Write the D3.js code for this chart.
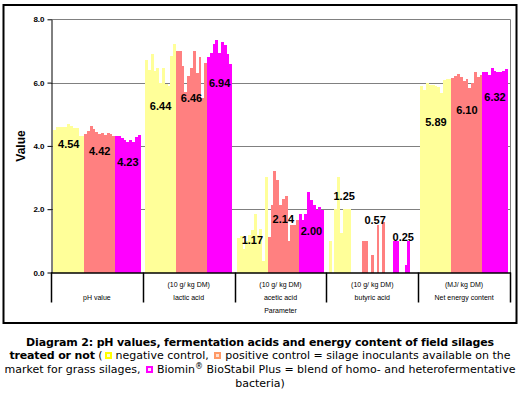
<!DOCTYPE html>
<html>
<head>
<meta charset="utf-8">
<script src="https://cdn.jsdelivr.net/npm/d3@7"></script>
<style>
body { margin: 0; background: #fff; }
#wrap { position: relative; width: 520px; height: 395px; overflow: hidden; }
#caption { position: absolute; left: 0; top: 336px; width: 520px; text-align: center;
  font-family: "DejaVu Sans", Verdana, sans-serif; font-size: 11px; line-height: 13.4px; color: #000; white-space: nowrap; }
#caption b { letter-spacing: -0.15px; }
.sq { display: inline-block; width: 3px; height: 3px; border: 2px solid; vertical-align: 0px; margin: 0 4px 0 2px; }
.reg { font-size: 8px; position: relative; top: -4px; }
</style>
</head>
<body>
<div id="wrap"><div id="chart"></div><div id="caption"></div></div>
<script>
// categories and axis text
var categories = ["pH value", "lactic acid", "acetic acid", "butyric acid", "Net energy content"];
var units = ["", "(10 g/ kg DM)", "(10 g/ kg DM)", "(10 g/ kg DM)", "(MJ/ kg DM)"];
var yTicks = [0, 2, 4, 6, 8];

// one value per silage, per category
var negControl = [
  [4.49, 4.59, 4.59, 4.59, 4.60, 4.69, 4.62, 4.57, 4.57, 4.30, 4.30],
  [6.72, 6.40, 6.90, 6.38, 6.45, 5.98, 6.45, 5.95, 5.90, 6.84, 7.22],
  [1.10, 1.15, 0.75, 1.00, 1.20, 1.35, 1.86, 1.20, 1.37, 0.35, 3.02],
  [0.99, 0, 2.00, 3.02, 1.25, 2.00, 2.00, 2.00, 0, 0, 0],
  [5.89, 5.78, 6.00, 5.92, 5.91, 5.90, 5.86, 5.66, 6.08, 6.10, 6.10]
];
var posControl = [
  [4.37, 4.48, 4.62, 4.52, 4.45, 4.38, 4.42, 4.34, 4.42, 4.38, 4.30],
  [7.01, 7.01, 6.52, 5.71, 6.21, 6.47, 7.01, 6.31, 6.82, 5.50, 6.63],
  [1.12, 2.13, 3.20, 2.92, 2.13, 2.31, 2.41, 1.01, 1.49, 1.50, 1.67],
  [0, 0.99, 0.99, 0, 0.54, 0, 1.49, 0, 1.60, 0, 0],
  [6.13, 6.21, 6.26, 6.18, 6.05, 6.10, 5.82, 5.98, 6.32, 6.18, 6.24]
];
var bioStabil = [
  [4.31, 4.30, 4.24, 4.20, 4.12, 4.20, 4.13, 4.28, 4.33],
  [6.80, 6.92, 7.22, 7.35, 6.92, 7.27, 7.20, 6.89, 6.58],
  [1.86, 1.65, 1.86, 2.53, 2.28, 2.14, 1.97, 2.07, 1.97],
  [0, 0.99, 0.99, 0, 0, 0.23, 0.99, 0, 0],
  [6.34, 6.33, 6.24, 6.46, 6.38, 6.33, 6.35, 6.37, 6.42]
];
// mean values printed on the chart
var meanLabels = [
  [4.54, 4.42, 4.23],
  [6.44, 6.46, 6.94],
  [1.17, 2.14, 2.00],
  [1.25, 0.57, 0.25],
  [5.89, 6.10, 6.32]
];

var colors = ["#FFFF99", "#FF8080", "#FF00FF"];
var sans = "'Liberation Sans', Arial, sans-serif";
// label offset from the mean's height, px (layout only)
var labelShift = [[15, 18, 23], [37, 30, 30], [5, 14, 22], [-37, -34, -28], [36, 31, 25]];

var svg = d3.select("#chart").append("svg")
    .attr("width", 520)
    .attr("height", 395)
    .style("position", "absolute").style("left", 0).style("top", 0);

var plot = {left: 51, right: 510, top: 19.3, bottom: 272.5};

var y = d3.scaleLinear().domain([0, 8]).range([plot.bottom, plot.top]);

var x0 = d3.scaleBand()
    .domain(categories)
    .range([plot.left, plot.right])
    .paddingInner(0.05)
    .paddingOuter(0.025);

var series = [negControl, posControl, bioStabil];
var nBars = d3.sum(series, s => s[0].length);
var x1 = d3.scaleBand().domain(d3.range(nBars)).range([0, x0.bandwidth()]);

// outer frame
svg.append("rect")
    .attr("x", 3.5).attr("y", 5).attr("width", 513).attr("height", 318)
    .attr("fill", "none").attr("stroke", "#000").attr("stroke-width", 2);

// gridlines
svg.append("g").selectAll("line")
    .data(yTicks.filter(d => d > 0))
    .enter().append("line")
    .attr("x1", plot.left).attr("x2", plot.right)
    .attr("y1", d => Math.round(y(d)) + 0.5).attr("y2", d => Math.round(y(d)) + 0.5)
    .attr("stroke", "#808080");

// right edge of plot area
svg.append("line")
    .attr("x1", plot.right + 0.5).attr("x2", plot.right + 0.5)
    .attr("y1", plot.top).attr("y2", plot.bottom)
    .attr("stroke", "#808080");

// bars
var rows = [];
categories.forEach(function(c, ci) {
    var k = 0;
    series.forEach(function(s, si) {
        s[ci].forEach(function(v) {
            rows.push({cat: c, k: k, t: si, value: v});
            k++;
        });
    });
});

svg.append("g").attr("shape-rendering", "crispEdges")
    .selectAll("rect")
    .data(rows.filter(d => d.value > 0))
    .enter().append("rect")
    .attr("x", d => x0(d.cat) + x1(d.k))
    .attr("width", x1.bandwidth())
    .attr("y", d => y(d.value))
    .attr("height", d => y(0) - y(d.value))
    .attr("fill", d => colors[d.t]);

// mean labels, centred on each treatment group
var labelRows = [];
categories.forEach(function(c, ci) {
    var start = 0;
    series.forEach(function(s, si) {
        var n = s[ci].length;
        labelRows.push({
            cx: x0(c) + x1(start) + n * x1.bandwidth() / 2,
            value: meanLabels[ci][si],
            dy: labelShift[ci][si]
        });
        start += n;
    });
});

svg.append("g").selectAll("text")
    .data(labelRows)
    .enter().append("text")
    .attr("x", d => d.cx)
    .attr("y", d => y(d.value) + d.dy)
    .attr("dy", "0.36em")
    .attr("text-anchor", "middle")
    .attr("font-family", sans)
    .attr("font-weight", "bold")
    .attr("font-size", 11)
    .text(d => d.value.toFixed(2));

// y axis
var yAxis = svg.append("g")
    .attr("transform", "translate(" + (plot.left + 0.5) + ",0)")
    .call(d3.axisLeft(y).tickValues(yTicks).tickFormat(d3.format(".1f")).tickSize(4).tickSizeOuter(0));
yAxis.select(".domain").attr("stroke", "#000");
yAxis.selectAll("text")
    .attr("font-family", sans)
    .attr("font-weight", "bold")
    .attr("font-size", 8)
    .attr("x", -7);

svg.append("text")
    .attr("transform", "translate(25,146) rotate(-90)")
    .attr("text-anchor", "middle")
    .attr("font-family", sans)
    .attr("font-weight", "bold")
    .attr("font-size", 12)
    .text("Value");

// x axis line and category separators
svg.append("line")
    .attr("x1", plot.left).attr("x2", plot.right + 1)
    .attr("y1", plot.bottom + 0.5).attr("y2", plot.bottom + 0.5)
    .attr("stroke", "#000").attr("stroke-width", 1.5);

var bounds = categories.map(c => x0(c) - x0.step() * x0.paddingInner() / 2).concat([plot.right]);
svg.append("g").selectAll("line")
    .data(bounds)
    .enter().append("line")
    .attr("x1", d => Math.round(d) + 0.5).attr("x2", d => Math.round(d) + 0.5)
    .attr("y1", plot.bottom).attr("y2", plot.bottom + 30)
    .attr("stroke", "#000").attr("stroke-width", 1.5);

var catText = svg.append("g")
    .attr("font-family", sans)
    .attr("font-size", 7)
    .attr("text-anchor", "middle");

catText.selectAll(".unit")
    .data(units)
    .enter().append("text")
    .attr("class", "unit")
    .attr("x", (d, i) => x0(categories[i]) + x0.bandwidth() / 2)
    .attr("y", plot.bottom + 14)
    .text(d => d);

catText.selectAll(".cat")
    .data(categories)
    .enter().append("text")
    .attr("class", "cat")
    .attr("x", d => x0(d) + x0.bandwidth() / 2)
    .attr("y", plot.bottom + 27)
    .text(d => d);

catText.append("text")
    .attr("x", (plot.left + plot.right) / 2)
    .attr("y", plot.bottom + 40)
    .text("Parameter");

// caption
var cap = d3.select("#caption");
cap.append("b").text("Diagram 2: pH values, fermentation acids and energy content of field silages");
cap.append("br");
cap.append("b").text("treated or not");
cap.append("span").text(" (");
cap.append("span").attr("class", "sq").style("border-color", "#FFFF00").style("background", "#FFFFCC");
cap.append("span").text("negative control, ");
cap.append("span").attr("class", "sq").style("border-color", "#FF9966").style("background", "#FFE0D0");
cap.append("span").text("positive control = silage inoculants available on the");
cap.append("br");
cap.append("span").text("market for grass silages, ");
cap.append("span").attr("class", "sq").style("border-color", "#FF00FF").style("background", "#FFE0FF");
cap.append("span").text("Biomin");
cap.append("span").attr("class", "reg").text("®");
cap.append("span").text(" BioStabil Plus = blend of homo- and heterofermentative");
cap.append("br");
cap.append("span").text("bacteria)");
</script>
</body>
</html>
